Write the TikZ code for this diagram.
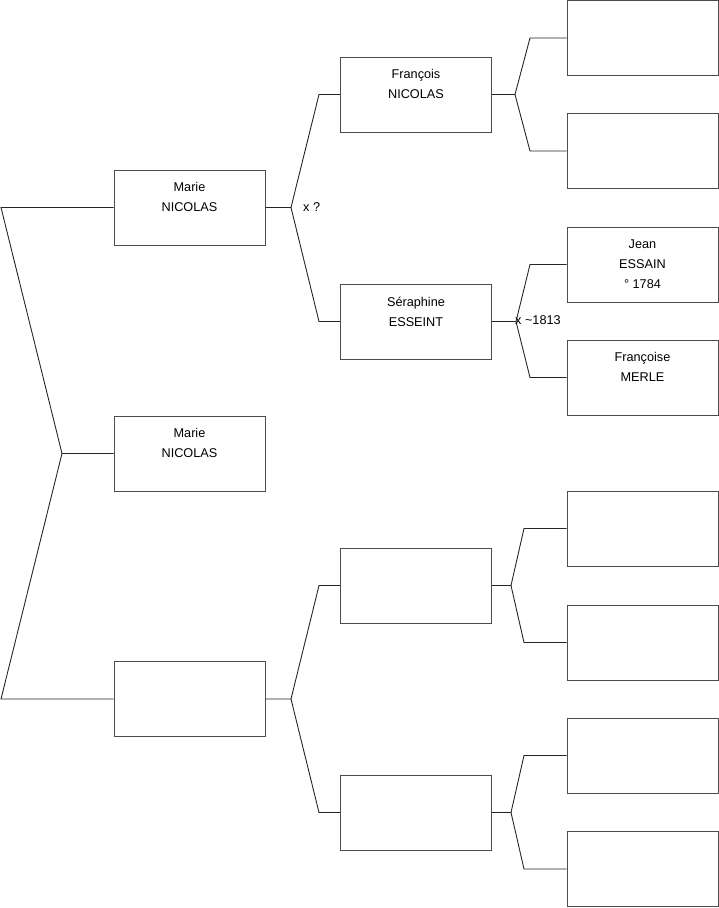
\documentclass[tikz,border=0pt]{standalone}
\usepackage{fontspec}
\setmainfont{Liberation Sans}
\usepackage{tikz}
\usetikzlibrary{positioning,calc}
\definecolor{boxgray}{HTML}{4D4D4D}
\definecolor{linkgray}{HTML}{262626}

\tikzset{
  person/.style={draw=boxgray, line width=1pt, minimum width=151pt, minimum height=75pt, inner sep=0pt},
  who/.style={anchor=north, align=center, inner sep=0pt, yshift=-13pt,
    font=\fontsize{12.7}{20}\selectfont, execute at begin node={\rule{0pt}{12pt}}},
  link/.style={draw=linkgray, line width=0.9pt},
  wed/.style={anchor=west, inner sep=0pt, font=\fontsize{12.7}{15}\selectfont},
}

\begin{document}
\begin{tikzpicture}[x=1pt,y=-1pt]
\useasboundingbox (0,0) rectangle (719,908);
% generation 1 and 2
\node[person, label={[who]north:{Marie\\NICOLAS}}] (s1) at (189.5,453.5) {};
\node[person, label={[who]north:{Marie\\NICOLAS}}] (s2) at (189.5,207.5) {};
\node[person] (s3) at (189.5,699) {};
% generation 3
\node[person, label={[who]north:{François\\NICOLAS}}] (s4) at (416,94.5) {};
\node[person, label={[who]north:{Séraphine\\ESSEINT}}] (s5) at (416,321.5) {};
\node[person] (s6) at (416,585.5) {};
\node[person] (s7) at (416,812.5) {};
% generation 4
\node[person] (s8) at (642.5,38) {};
\node[person] (s9) at (642.5,151) {};
\node[person, label={[who]north:{Jean\\ESSAIN\\° 1784}}] (s10) at (642.5,264.5) {};
\node[person, label={[who]north:{Françoise\\MERLE}}] (s11) at (642.5,377.5) {};
\node[person] (s12) at (642.5,528.5) {};
\node[person] (s13) at (642.5,642.5) {};
\node[person] (s14) at (642.5,755.5) {};
\node[person] (s15) at (642.5,869) {};

% forks
\coordinate (j1) at (62,453.5);
\coordinate (e2) at (1,207.5);
\coordinate (e3) at (1,699);
\draw[link] (s1.west) -- (j1) -- (e2) -- (s2.west);
\draw[link] (j1) -- (e3) -- (s3.west);

\coordinate (j2) at (291,207.5);
\draw[link] (s2.east) -- (j2) -- (319,94.5) -- (s4.west);
\draw[link] (j2) -- (319,321.5) -- (s5.west);
\coordinate (j3) at (291,699);
\draw[link] (s3.east) -- (j3) -- (319,585.5) -- (s6.west);
\draw[link] (j3) -- (319,812.5) -- (s7.west);

\coordinate (j4) at (515,94.5);
\draw[link] (s4.east) -- (j4) -- (530,38) -- (s8.west);
\draw[link] (j4) -- (530,151) -- (s9.west);
\coordinate (j5) at (516,321.5);
\draw[link] (s5.east) -- (j5) -- (530,264.5) -- (s10.west);
\draw[link] (j5) -- (530,377.5) -- (s11.west);
\coordinate (j6) at (511,585.5);
\draw[link] (s6.east) -- (j6) -- (524,528.5) -- (s12.west);
\draw[link] (j6) -- (524,642.5) -- (s13.west);
\coordinate (j7) at (511,812.5);
\draw[link] (s7.east) -- (j7) -- (524,755.5) -- (s14.west);
\draw[link] (j7) -- (524,869) -- (s15.west);

% marriages
\node[wed] (m2) at (303,207.5) {x ?};
\node[wed] (m5) at (515,320) {x \textasciitilde1813};
\end{tikzpicture}
\end{document}
